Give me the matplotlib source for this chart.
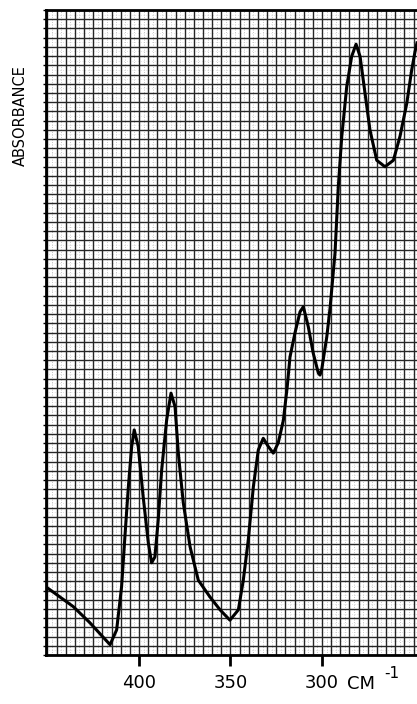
import numpy as np
import matplotlib.pyplot as plt
from matplotlib.ticker import MultipleLocator

# spectrum (wavenumber in cm-1, relative absorbance 0..1)
wavenumber = [451.0, 443.2, 435.9, 426.8, 419.7, 415.8, 412.2, 409.5, 407.7, 405.8,
              404.0, 402.6, 400.4, 397.7, 394.9, 393.1, 391.3, 389.5, 387.6, 384.9,
              382.5, 380.3, 378.5, 375.8, 372.1, 367.6, 361.2, 355.7, 350.3, 345.7,
              343.0, 340.3, 337.5, 334.8, 332.1, 329.3, 326.6, 323.9, 321.1, 319.0,
              317.5, 314.8, 312.0, 310.2, 307.5, 304.8, 302.0, 301.1, 300.2, 297.4,
              295.6, 292.9, 291.1, 289.2, 286.5, 283.8, 281.4, 279.2, 276.5, 273.8,
              270.1, 265.6, 261.0, 257.4, 253.7, 251.0, 249.2, 248.1]
absorbance = [0.106, 0.090, 0.075, 0.050, 0.028, 0.016, 0.039, 0.106, 0.183, 0.261,
              0.323, 0.349, 0.323, 0.245, 0.174, 0.143, 0.152, 0.209, 0.287, 0.364,
              0.406, 0.385, 0.313, 0.236, 0.168, 0.116, 0.090, 0.070, 0.054, 0.070,
              0.116, 0.178, 0.261, 0.318, 0.336, 0.323, 0.313, 0.329, 0.364, 0.416,
              0.462, 0.499, 0.532, 0.540, 0.509, 0.468, 0.437, 0.434, 0.442, 0.493,
              0.538, 0.623, 0.726, 0.804, 0.881, 0.928, 0.947, 0.928, 0.871, 0.814,
              0.767, 0.757, 0.767, 0.804, 0.855, 0.907, 0.935, 0.949]

tick_values = [400, 350, 300]
tick_labels = ['400', '350', '300']

fig = plt.figure(figsize=(4.17, 7.04), dpi=100)
ax = fig.add_axes([46/417, 1 - 655/704, 1 - 46/417, (655 - 10)/704])

ax.set_xlim(450.8, 248.1)
ax.set_ylim(0, 1)

# chart paper: faint dotted mid lines, then the main grid
for xm in np.arange(247.5, 452, 5):
    ax.axvline(xm, color='#b0b0b0', lw=0.6, ls=(0, (1, 2)), zorder=0)
for ym in np.arange(0.5, 70, 1) / 70:
    ax.axhline(ym, color='#c8c8c8', lw=0.5, ls=(0, (1, 3)), zorder=0)

ax.xaxis.set_minor_locator(MultipleLocator(5))
ax.yaxis.set_minor_locator(MultipleLocator(1/70))
ax.grid(which='both', color='#262626', lw=1.0)
ax.set_axisbelow(True)

ax.plot(wavenumber, absorbance, color='black', lw=2.2, solid_joinstyle='round', zorder=3)

ax.set_xticks(tick_values)
ax.set_xticklabels(tick_labels)
ax.set_yticks([])
ax.tick_params(axis='x', which='major', direction='out', length=8, width=2,
               labelsize=13, pad=6)
ax.tick_params(axis='x', which='minor', length=0)
ax.tick_params(axis='y', which='minor', direction='out', length=2, width=1)

for side in ['left', 'top', 'bottom']:
    ax.spines[side].set_linewidth(2)
ax.spines['right'].set_visible(False)

fig.text(361/417, 1 - 684/704, 'CM', ha='center', va='center', fontsize=13)
fig.text(392/417, 1 - 673/704, '-1', ha='center', va='center', fontsize=11)
fig.text(20/417, 1 - 116/704, 'ABSORBANCE', rotation=90, ha='center', va='center',
         fontsize=10.5, family=['Liberation Sans Narrow', 'DejaVu Sans'])

fig.savefig('out.png', dpi=100)
